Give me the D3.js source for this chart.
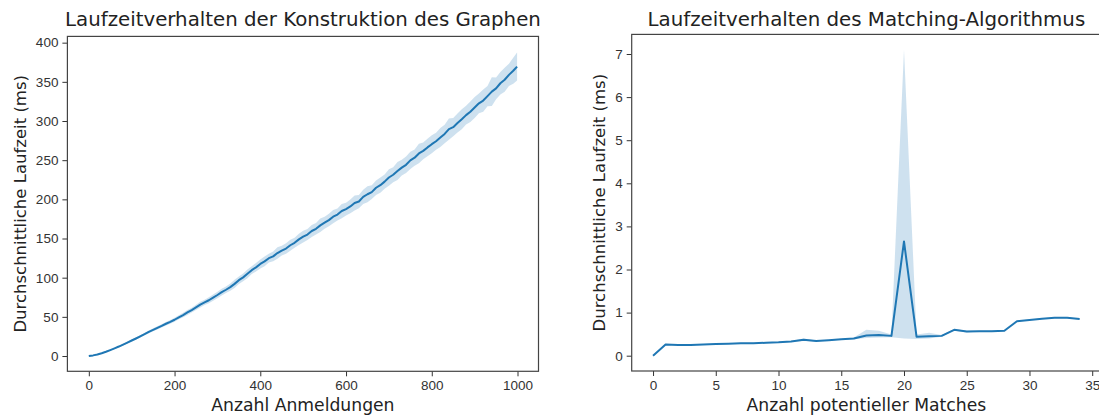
<!DOCTYPE html>
<html>
<head>
<meta charset="utf-8">
<script src="https://cdn.jsdelivr.net/npm/d3@7"></script>
<style>
  body { margin: 0; background: #fff; }
  svg { display: block; font-family: "DejaVu Sans", sans-serif; }
  .tick text { fill: #333; font-size: 13.5px; }
  .tick line { stroke: #333; }
</style>
</head>
<body>
<div id="wrapper"></div>
<script>
// left chart: graph construction runtime
const buildX = d3.range(0, 1000, 10).concat([999])
const buildMean = [
  0.0, 0.8, 2.0, 3.6, 5.4, 7.6, 9.8, 12.1, 14.6, 17.2,
  19.8, 22.4, 25.1, 27.9, 30.9, 33.4, 36.0, 38.5, 41.2, 43.6,
  46.3, 49.4, 52.3, 55.6, 58.7, 62.1, 65.6, 68.4, 71.2, 74.6,
  77.9, 81.5, 84.6, 87.9, 92.1, 96.8, 100.4, 104.9, 109.6, 113.2,
  117.5, 120.8, 124.9, 127.2, 131.5, 134.6, 137.2, 141.4, 144.5, 148.9,
  152.3, 155.1, 159.6, 162.4, 166.8, 170.2, 173.5, 177.9, 180.6, 185.1,
  187.6, 190.9, 195.4, 197.2, 203.1, 206.5, 209.2, 214.8, 218.1, 222.6,
  227.9, 231.4, 236.2, 240.5, 244.1, 249.8, 253.2, 258.6, 261.9, 266.3,
  270.4, 274.2, 278.9, 283.5, 289.6, 292.1, 297.4, 302.2, 307.5, 311.9,
  317.2, 322.6, 326.1, 331.8, 337.5, 341.6, 348.2, 352.7, 358.9, 364.1, 369.5
]
const buildCi = [
  0.3, 0.4, 0.5, 0.6, 0.7, 0.8, 0.9, 1.0, 1.1, 1.2,
  1.3, 1.4, 1.6, 1.5, 1.8, 1.9, 2.0, 2.2, 2.1, 2.4,
  2.6, 2.5, 2.9, 3.1, 3.0, 3.4, 3.6, 3.3, 3.8, 4.0,
  4.1, 4.4, 4.0, 4.6, 5.2, 4.8, 5.1, 5.6, 5.0, 5.4,
  5.8, 6.3, 5.6, 6.1, 7.4, 6.2, 6.6, 7.0, 6.4, 7.2,
  7.5, 6.9, 7.8, 7.3, 8.6, 7.6, 8.0, 8.4, 7.7, 9.1,
  8.2, 8.8, 9.6, 8.5, 9.0, 10.2, 8.9, 9.4, 9.8, 9.2,
  10.4, 9.7, 11.6, 10.1, 10.5, 11.0, 10.3, 12.4, 10.8, 11.2,
  11.5, 10.9, 12.2, 11.8, 13.5, 11.6, 12.1, 12.8, 12.0, 13.1,
  13.4, 12.6, 14.2, 13.0, 18.5, 13.8, 14.5, 15.2, 14.1, 16.5, 17.8
]
const buildXTicks = [0, 200, 400, 600, 800, 1000]
const buildYTicks = [0, 50, 100, 150, 200, 250, 300, 350, 400]

// right chart: matching runtime
const matchX = d3.range(0, 35)
const matchMean = [
  0.00, 0.26, 0.25, 0.25, 0.26, 0.27, 0.28, 0.29, 0.29, 0.30,
  0.31, 0.33, 0.37, 0.34, 0.36, 0.38, 0.40, 0.47, 0.48, 0.46,
  2.65, 0.44, 0.45, 0.46, 0.60, 0.56, 0.57, 0.57, 0.58, 0.80,
  0.83, 0.86, 0.88, 0.88, 0.85
]
const matchLow = [
  0.00, 0.24, 0.24, 0.24, 0.25, 0.26, 0.27, 0.28, 0.28, 0.29,
  0.30, 0.32, 0.34, 0.33, 0.35, 0.37, 0.38, 0.41, 0.42, 0.43,
  0.40, 0.39, 0.40, 0.44, 0.58, 0.54, 0.56, 0.56, 0.57, 0.79,
  0.82, 0.85, 0.87, 0.87, 0.84
]
const matchHigh = [
  0.00, 0.28, 0.26, 0.26, 0.27, 0.28, 0.29, 0.30, 0.30, 0.31,
  0.32, 0.34, 0.40, 0.35, 0.37, 0.39, 0.42, 0.60, 0.58, 0.49,
  7.10, 0.49, 0.53, 0.48, 0.62, 0.58, 0.58, 0.58, 0.59, 0.81,
  0.84, 0.87, 0.89, 0.89, 0.86
]
const matchXTicks = [0, 5, 10, 15, 20, 25, 30, 35]
const matchYTicks = [0, 1, 2, 3, 4, 5, 6, 7]

const lineColor = "#1f77b4"

const wrapper = d3.select("#wrapper")
  .append("svg")
    .attr("width", 1099)
    .attr("height", 415)

function drawPanel(opts) {
  const { box, xDomain, yDomain, xs, mean, low, high, xTicks, yTicks, title, xLabel, yLabelX } = opts

  const xScale = d3.scaleLinear().domain(xDomain).range([box.x, box.x + box.w])
  const yScale = d3.scaleLinear().domain(yDomain).range([box.y + box.h, box.y])

  const g = wrapper.append("g")

  const pts = xs.map((x, i) => ({ x, m: mean[i], lo: low[i], hi: high[i] }))

  // confidence band
  g.append("path")
    .datum(pts)
    .attr("fill", lineColor)
    .attr("fill-opacity", 0.22)
    .attr("d", d3.area()
      .x(d => xScale(d.x))
      .y0(d => yScale(d.lo))
      .y1(d => yScale(d.hi)))

  // mean line
  g.append("path")
    .datum(pts)
    .attr("fill", "none")
    .attr("stroke", lineColor)
    .attr("stroke-width", 2)
    .attr("stroke-linejoin", "round")
    .attr("d", d3.line()
      .x(d => xScale(d.x))
      .y(d => yScale(d.m)))

  // axes
  const fmt = d3.format("d")
  g.append("g")
    .attr("transform", `translate(0, ${box.y + box.h})`)
    .call(d3.axisBottom(xScale).tickValues(xTicks).tickFormat(fmt).tickSize(5).tickPadding(4).tickSizeOuter(0))
    .call(a => a.select(".domain").remove())

  g.append("g")
    .attr("transform", `translate(${box.x}, 0)`)
    .call(d3.axisLeft(yScale).tickValues(yTicks).tickFormat(fmt).tickSize(5).tickPadding(4).tickSizeOuter(0))
    .call(a => a.select(".domain").remove())

  // frame
  g.append("rect")
    .attr("x", box.x)
    .attr("y", box.y)
    .attr("width", box.w)
    .attr("height", box.h)
    .attr("fill", "none")
    .attr("stroke", "#444")
    .attr("stroke-width", 1.2)

  // texts
  g.append("text")
    .attr("x", box.x + box.w / 2)
    .attr("y", 26)
    .attr("text-anchor", "middle")
    .style("font-size", "19.8px")
    .style("fill", "#222")
    .text(title)

  g.append("text")
    .attr("x", box.x + box.w / 2)
    .attr("y", 411)
    .attr("text-anchor", "middle")
    .style("font-size", "17.2px")
    .style("fill", "#222")
    .text(xLabel)

  g.append("text")
    .attr("transform", `translate(${yLabelX}, ${box.y + box.h / 2}) rotate(-90)`)
    .attr("text-anchor", "middle")
    .style("font-size", "16.5px")
    .style("fill", "#222")
    .text("Durchschnittliche Laufzeit (ms)")
}

drawPanel({
  box: { x: 67.4, y: 36.4, w: 471.1, h: 334.9 },
  xDomain: [-49.95, 1048.95],
  yDomain: [-19.5, 408],
  xs: buildX,
  mean: buildMean,
  low: buildMean.map((m, i) => m - buildCi[i]),
  high: buildMean.map((m, i) => m + buildCi[i]),
  xTicks: buildXTicks,
  yTicks: buildYTicks,
  title: "Laufzeitverhalten der Konstruktion des Graphen",
  xLabel: "Anzahl Anmeldungen",
  yLabelX: 26,
})

drawPanel({
  box: { x: 631.7, y: 34.4, w: 469.3, h: 336.6 },
  xDomain: [-1.7, 35.7],
  yDomain: [-0.355, 7.455],
  xs: matchX,
  mean: matchMean,
  low: matchLow,
  high: matchHigh,
  xTicks: matchXTicks,
  yTicks: matchYTicks,
  title: "Laufzeitverhalten des Matching-Algorithmus",
  xLabel: "Anzahl potentieller Matches",
  yLabelX: 605,
})
</script>
</body>
</html>
